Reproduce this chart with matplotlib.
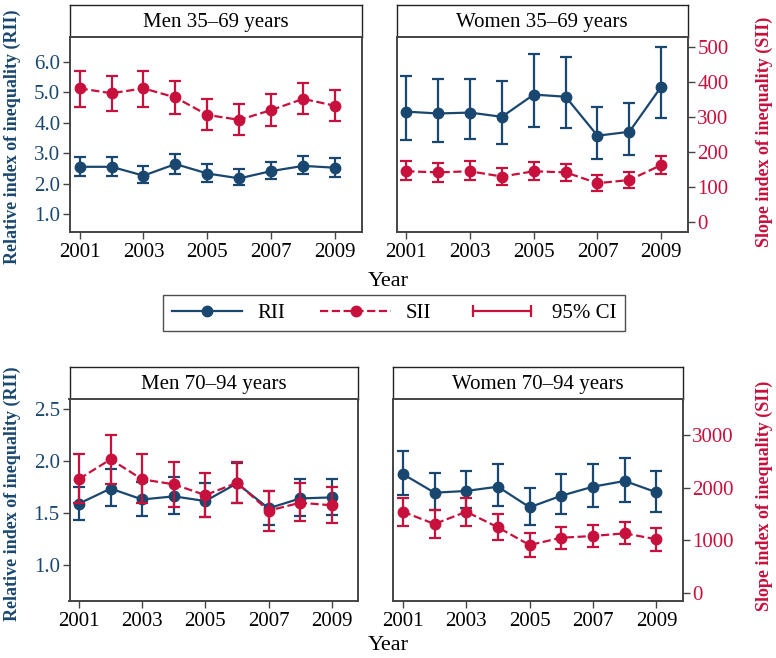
import matplotlib
matplotlib.use('Agg')
import matplotlib.pyplot as plt
from matplotlib.lines import Line2D
from matplotlib.legend_handler import HandlerLine2D

plt.rcParams['font.family'] = ['Liberation Serif', 'DejaVu Serif']

years = [2001, 2002, 2003, 2004, 2005, 2006, 2007, 2008, 2009]

# Men 35-69
m1_rii = [2.55, 2.55, 2.26, 2.64, 2.33, 2.17, 2.41, 2.58, 2.52]
m1_rii_lo = [2.25, 2.25, 2.01, 2.33, 2.06, 1.95, 2.14, 2.31, 2.23]
m1_rii_hi = [2.88, 2.86, 2.58, 2.97, 2.63, 2.47, 2.71, 2.90, 2.83]
m1_sii = [381, 367, 381, 355, 305, 291, 319, 351, 331]
m1_sii_lo = [329, 316, 329, 308, 262, 247, 274, 308, 288]
m1_sii_hi = [431, 416, 431, 403, 351, 336, 364, 395, 375]

# Women 35-69
w1_rii = [4.36, 4.30, 4.33, 4.19, 4.92, 4.85, 3.57, 3.70, 5.18]
w1_rii_lo = [3.43, 3.37, 3.45, 3.29, 3.87, 3.81, 2.81, 2.94, 4.14]
w1_rii_hi = [5.53, 5.43, 5.43, 5.38, 6.25, 6.16, 4.52, 4.63, 6.47]
w1_sii = [144, 141, 144, 129, 144, 141, 110, 119, 162]
w1_sii_lo = [118, 114, 118, 104, 120, 116, 88, 95, 136]
w1_sii_hi = [173, 168, 172, 154, 170, 165, 134, 142, 189]

# Men 70-94
m2_rii = [1.59, 1.735, 1.63, 1.66, 1.615, 1.785, 1.545, 1.64, 1.65]
m2_rii_lo = [1.435, 1.565, 1.47, 1.49, 1.46, 1.60, 1.38, 1.47, 1.48]
m2_rii_hi = [1.75, 1.92, 1.80, 1.845, 1.79, 1.98, 1.71, 1.824, 1.83]
m2_sii = [2167, 2542, 2161, 2066, 1860, 2096, 1563, 1715, 1666]
m2_sii_lo = [1710, 2066, 1704, 1628, 1450, 1715, 1176, 1366, 1322]
m2_sii_hi = [2643, 3006, 2643, 2485, 2287, 2485, 1938, 2085, 2020]

# Women 70-94
w2_rii = [1.875, 1.695, 1.712, 1.753, 1.555, 1.666, 1.753, 1.808, 1.699]
w2_rii_lo = [1.673, 1.529, 1.55, 1.567, 1.385, 1.487, 1.555, 1.609, 1.513]
w2_rii_hi = [2.096, 1.888, 1.907, 1.968, 1.743, 1.872, 1.968, 2.026, 1.904]
w2_sii = [1544, 1309, 1544, 1246, 909, 1048, 1081, 1132, 1018]
w2_sii_lo = [1271, 1048, 1271, 1004, 686, 827, 865, 922, 800]
w2_sii_hi = [1811, 1576, 1811, 1494, 1132, 1258, 1290, 1353, 1227]

blue = '#1a476f'
red = '#c8103c'
frame = '#444444'

W, H = 776, 658
fig = plt.figure(figsize=(W / 100, H / 100), dpi=100)


def rect(x0, x1, y0, y1):
    return [x0 / W, 1 - y1 / H, (x1 - x0) / W, (y1 - y0) / H]


def panel(box, title, rii, rii_lo, rii_hi, sii, sii_lo, sii_hi,
          rii_lim, sii_lim, rii_ticks, sii_ticks, side):
    x0, x1, ys, yt, yb = box
    strip = fig.add_axes(rect(x0, x1, ys, yt))
    strip.set_xticks([])
    strip.set_yticks([])
    for s in strip.spines.values():
        s.set_color('#222222')
        s.set_linewidth(1.0)
    strip.text(0.5, 0.45, title, ha='center', va='center', fontsize=15,
               transform=strip.transAxes)

    ax = fig.add_axes(rect(x0, x1, yt, yb))
    ax2 = ax.twinx()
    ax.errorbar(years, rii,
                yerr=[[r - l for r, l in zip(rii, rii_lo)],
                      [h - r for r, h in zip(rii, rii_hi)]],
                color=blue, lw=1.6, marker='o', ms=7.5, capsize=4,
                capthick=1.6, elinewidth=1.6)
    ax2.errorbar(years, sii,
                 yerr=[[r - l for r, l in zip(sii, sii_lo)],
                       [h - r for r, h in zip(sii, sii_hi)]],
                 color=red, lw=1.6, ls='--', marker='o', ms=7.5, capsize=4,
                 capthick=1.6, elinewidth=1.6)
    ax.set_xlim(2000.7, 2009.83)
    ax.set_ylim(*rii_lim)
    ax2.set_ylim(*sii_lim)
    ax.set_xticks([2001, 2003, 2005, 2007, 2009])
    ax.set_yticks(rii_ticks)
    ax.set_yticklabels(['%.1f' % v for v in rii_ticks])
    ax2.set_yticks(sii_ticks)
    ax.tick_params(axis='x', labelsize=15, colors=frame, labelcolor='black',
                   length=5, width=1, pad=3)
    ax.tick_params(axis='y', labelsize=15, colors=frame, labelcolor=blue,
                   length=5, width=1, pad=2)
    ax2.tick_params(axis='y', labelsize=15, colors=frame, labelcolor=red,
                    length=5, width=1, pad=2)
    if side == 'left':
        ax2.tick_params(axis='y', right=False, labelright=False)
    else:
        ax.tick_params(axis='y', left=False, labelleft=False)
    for a in (ax, ax2):
        for s in a.spines.values():
            s.set_color(frame)
            s.set_linewidth(1.2)
    return ax, ax2


top_rii_lim = (0.42, 6.82)
top_sii_lim = (-28.6, 528.6)
bot_rii_lim = (0.657, 2.593)
bot_sii_lim = (-152, 3686)

panel((70, 361.7, 4.7, 36.7, 231.7), 'Men 35\u201369 years',
      m1_rii, m1_rii_lo, m1_rii_hi, m1_sii, m1_sii_lo, m1_sii_hi,
      top_rii_lim, top_sii_lim, [1, 2, 3, 4, 5, 6],
      [0, 100, 200, 300, 400, 500], 'left')
panel((396.7, 687.7, 4.7, 36.7, 231.7), 'Women 35\u201369 years',
      w1_rii, w1_rii_lo, w1_rii_hi, w1_sii, w1_sii_lo, w1_sii_hi,
      top_rii_lim, top_sii_lim, [1, 2, 3, 4, 5, 6],
      [0, 100, 200, 300, 400, 500], 'right')
panel((69.5, 358, 367.3, 399.3, 600.7), 'Men 70\u201394 years',
      m2_rii, m2_rii_lo, m2_rii_hi, m2_sii, m2_sii_lo, m2_sii_hi,
      bot_rii_lim, bot_sii_lim, [1.0, 1.5, 2.0, 2.5],
      [0, 1000, 2000, 3000], 'left')
panel((393.3, 682.7, 367.3, 399.3, 600.7), 'Women 70\u201394 years',
      w2_rii, w2_rii_lo, w2_rii_hi, w2_sii, w2_sii_lo, w2_sii_hi,
      bot_rii_lim, bot_sii_lim, [1.0, 1.5, 2.0, 2.5],
      [0, 1000, 2000, 3000], 'right')

# axis titles
for yl, yr in ((137, 132), (494, 496)):
    fig.text(12 / W, 1 - yl / H, 'Relative index of inequality (RII)',
             rotation=90, ha='center', va='center', color=blue,
             fontsize=13, fontweight='bold')
    fig.text(764 / W, 1 - yr / H, 'Slope index of inequality (SII)',
             rotation=90, ha='center', va='center', color=red,
             fontsize=13, fontweight='bold')
fig.text(388 / W, 1 - 281 / H, 'Year', ha='center', va='center', fontsize=16)
fig.text(388 / W, 1 - 645 / H, 'Year', ha='center', va='center', fontsize=16)

# legend
h_rii = Line2D([], [], color=blue, lw=1.6, marker='o', ms=7.5)
h_sii = Line2D([], [], color=red, lw=1.6, ls='--', marker='o', ms=7.5)
h_ci = Line2D([], [], color=red, lw=1.6, marker='|', ms=8, mew=1.6)
leg = fig.legend([h_rii, h_sii, h_ci], ['RII', 'SII', '95% CI'],
                 loc='center', bbox_to_anchor=(394 / W, 1 - 313 / H),
                 ncol=3, fontsize=15, frameon=True, fancybox=False,
                 handlelength=3.4, columnspacing=1.7, handletextpad=0.7,
                 borderpad=0.4, numpoints=1,
                 handler_map={h_ci: HandlerLine2D(numpoints=2)})
leg.get_frame().set_edgecolor('#222222')
leg.get_frame().set_linewidth(1.0)

fig.savefig('out.png', dpi=100)
